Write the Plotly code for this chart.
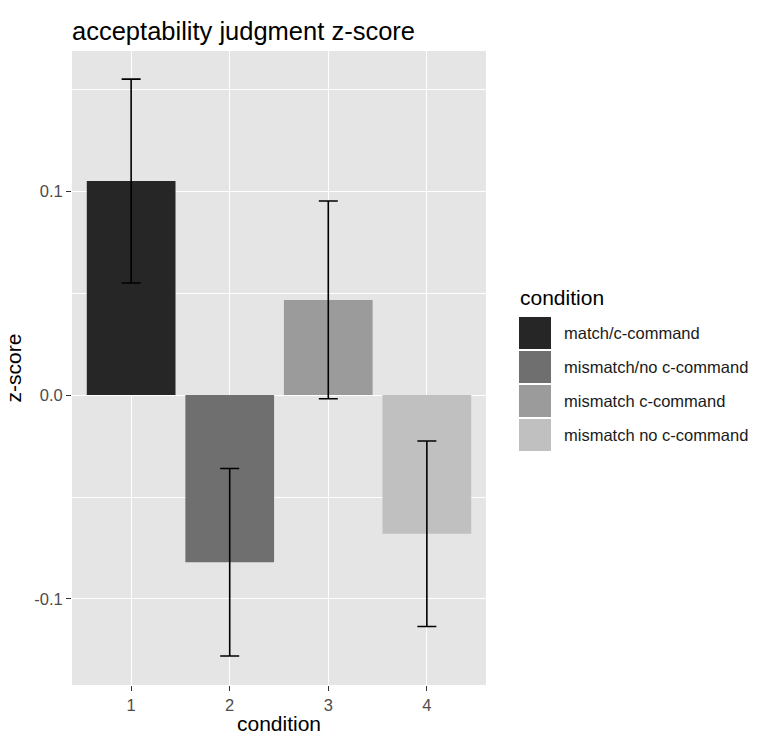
import plotly.graph_objects as go

# Mean acceptability z-scores per condition with standard errors
conditions = ["1", "2", "3", "4"]
condition_labels = ["match/c-command", "mismatch/no c-command",
                    "mismatch c-command", "mismatch no c-command"]
mean_z = [0.105, -0.082, 0.0467, -0.068]
std_err = [0.050, 0.046, 0.0485, 0.0455]
fill_colors = ["#262626", "#6f6f6f", "#9b9b9b", "#c0c0c0"]
y_tick_vals = [-0.1, 0.0, 0.1]
y_tick_text = ["-0.1", "0.0", "0.1"]

W, H = 757, 735
PL, PR, PT, PB = 72, 486, 51, 685  # panel edges in pixels

FONT = "Liberation Sans, Arial, Helvetica, sans-serif"

fig = go.Figure()
for i, cond in enumerate(conditions):
    fig.add_trace(go.Bar(
        x=[int(cond)], y=[mean_z[i]], width=0.9,
        marker=dict(color=fill_colors[i], line=dict(width=0)),
        error_y=dict(type="data", array=[std_err[i]], visible=True,
                     color="black", thickness=1.6, width=9.5),
        name=condition_labels[i], showlegend=False,
    ))


def px_x(px):
    return (px - PL) / (PR - PL)


def px_y(py):
    return (PB - py) / (PB - PT)


# Legend drawn as keys + labels to the right of the panel
shapes = []
annotations = []
annotations.append(dict(text="condition", xref="paper", yref="paper",
                        x=px_x(518), y=px_y(297), xanchor="left", yanchor="middle",
                        showarrow=False, font=dict(family=FONT, size=21, color="black")))
key_top = 317
key_step = 34
for i, lab in enumerate(condition_labels):
    top = key_top + i * key_step
    shapes.append(dict(type="rect", xref="paper", yref="paper",
                       x0=px_x(519), x1=px_x(551), y0=px_y(top + 32), y1=px_y(top),
                       fillcolor=fill_colors[i], line=dict(width=0), layer="above"))
    annotations.append(dict(text=lab, xref="paper", yref="paper",
                            x=px_x(562), y=px_y(top + 16), xanchor="left", yanchor="middle",
                            showarrow=False, font=dict(family=FONT, size=16.5, color="#1a1a1a")))

fig.update_layout(
    width=W, height=H,
    margin=dict(l=PL, r=W - PR, t=PT, b=H - PB, autoexpand=False),
    paper_bgcolor="white",
    plot_bgcolor="#e5e5e5",
    font=dict(family=FONT, color="#4d4d4d"),
    title=dict(text="acceptability judgment z-score", x=PL / W, xanchor="left",
               xref="container", y=1 - 31 / H, yanchor="middle", yref="container",
               font=dict(family=FONT, size=25.5, color="black")),
    bargap=0.1,
    shapes=shapes,
    annotations=annotations,
    showlegend=False,
)

fig.update_xaxes(
    range=[0.4, 4.6], tickvals=[1, 2, 3, 4], ticktext=conditions,
    showgrid=True, gridcolor="white", gridwidth=1.4, zeroline=False,
    ticks="outside", ticklen=5, tickcolor="#333333", tickwidth=1.2,
    tickfont=dict(family=FONT, size=16.5, color="#4d4d4d"),
    title=dict(text="condition", standoff=6,
               font=dict(family=FONT, size=21, color="black")),
    showline=False, automargin=False,
)
fig.update_yaxes(
    range=[-0.1422, 0.1688], tickvals=y_tick_vals, ticktext=y_tick_text,
    showgrid=True, gridcolor="white", gridwidth=1.4, zeroline=False,
    ticks="outside", ticklen=5, tickcolor="#333333", tickwidth=1.2,
    tickfont=dict(family=FONT, size=16.5, color="#4d4d4d"),
    minor=dict(tickvals=[-0.15, -0.05, 0.05, 0.15], showgrid=True,
               gridcolor="white", gridwidth=0.7, ticks=""),
    title=dict(text="z-score", standoff=6,
               font=dict(family=FONT, size=21, color="black")),
    showline=False, automargin=False,
)

fig.write_html("out.html")
